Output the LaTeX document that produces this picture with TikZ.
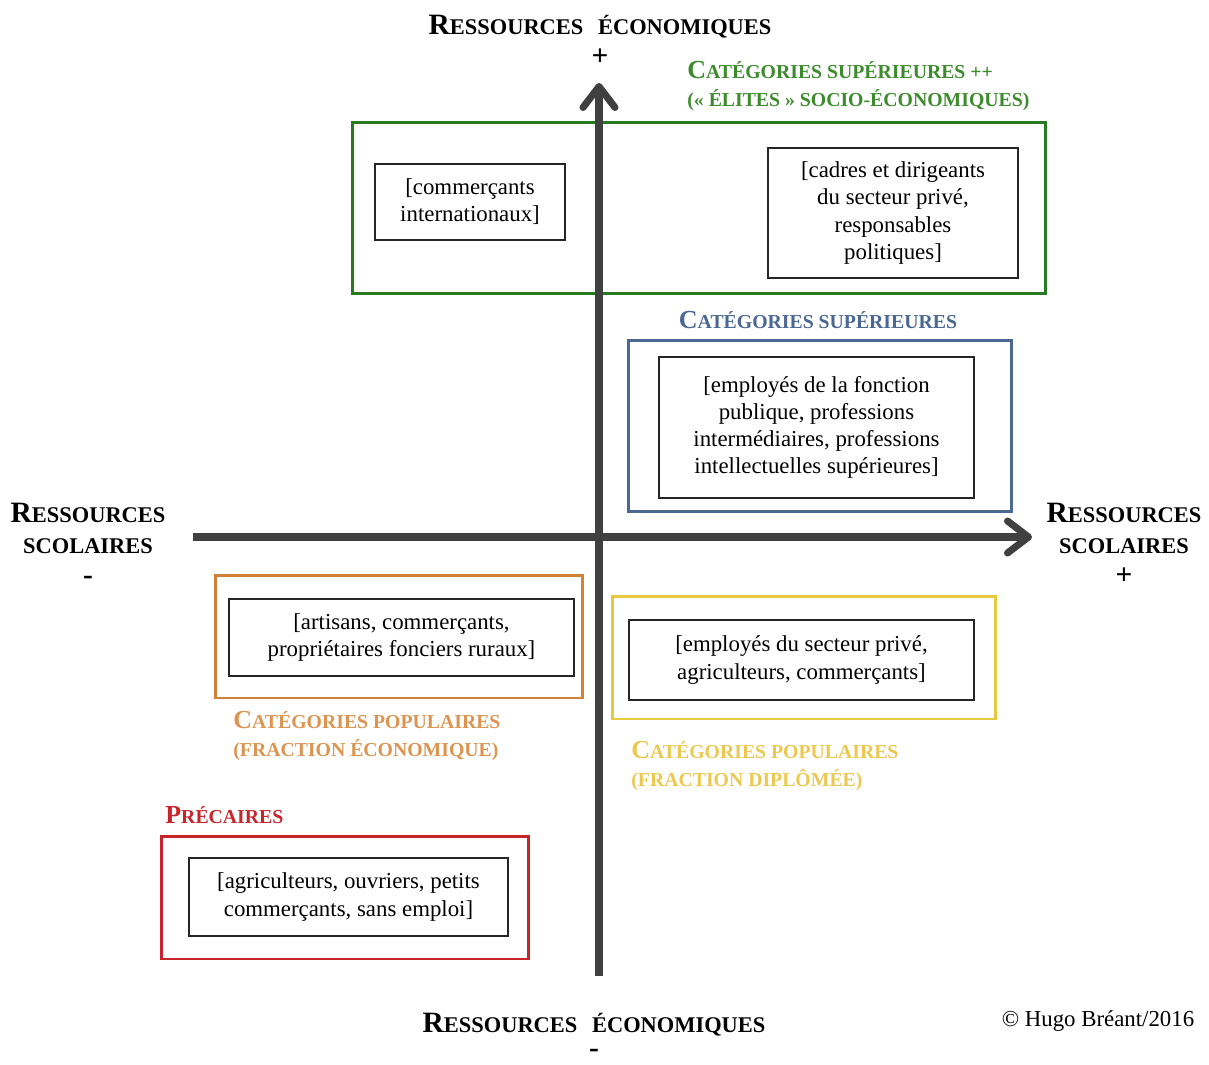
\documentclass[tikz,border=0pt]{standalone}
\usepackage{fontspec}
\setmainfont{Liberation Serif}
\usetikzlibrary{arrows.meta}
\definecolor{vert}{RGB}{38,122,34}
\definecolor{vertclair}{RGB}{60,140,45}
\definecolor{bleu}{RGB}{74,104,146}
\definecolor{orange}{RGB}{210,130,55}
\definecolor{orangeclair}{RGB}{220,148,80}
\definecolor{jaune}{RGB}{232,200,60}
\definecolor{jauneclair}{RGB}{236,200,80}
\definecolor{rouge}{RGB}{200,36,44}
\definecolor{axegris}{RGB}{64,64,64}
\newcommand\sck[1]{\scalebox{0.76}{#1}}
\tikzset{
    every node/.style={inner sep=0pt, font=\fontsize{13}{15.4}\selectfont}
}
\tikzset{catbox/.style={rectangle, draw, line width=1.7pt}}
\tikzset{jobbox/.style={rectangle, draw=black!85, line width=0.7pt, align=center}}
\tikzset{cattitle/.style={font=\fontsize{14.8}{15.6}\selectfont\bfseries, align=left, anchor=west}}
\tikzset{axtitle/.style={font=\fontsize{16.8}{17.5}\selectfont\bfseries, align=center}}

\begin{document}
\begin{tikzpicture}[x=0.02cm, y=-0.02cm]
  \useasboundingbox (0,0) rectangle (1209,1064);

  % grandes boites colorees
  \node (elite) [catbox, draw=vert, minimum width=13.88cm, minimum height=3.44cm] at (699,208) {};
  \node (sup) [catbox, draw=bleu, minimum width=7.68cm, minimum height=3.44cm] at (820,426) {};
  \node (popeco) [catbox, draw=orange, minimum width=7.36cm, minimum height=2.46cm] at (399,636.5) {};
  \node (popdip) [catbox, draw=jaune, minimum width=7.68cm, minimum height=2.46cm] at (804,657.5) {};
  \node (prec) [catbox, draw=rouge, minimum width=7.36cm, minimum height=2.46cm] at (345,897.5) {};

  % professions
  \node (comm) [jobbox, minimum width=3.8cm, minimum height=1.52cm] at (470,202) {[commerçants\\internationaux]};
  \node (cadres) [jobbox, minimum width=5cm, minimum height=2.6cm] at (893,213) {[cadres et dirigeants\\du secteur privé,\\responsables\\politiques]};
  \node (fonct) [jobbox, minimum width=6.3cm, minimum height=2.82cm] at (816.5,427.5) {[employés de la fonction\\publique, professions\\intermédiaires, professions\\intellectuelles supérieures]};
  \node (artis) [jobbox, minimum width=6.9cm, minimum height=1.54cm] at (401.5,637.5) {[artisans, commerçants,\\propriétaires fonciers ruraux]};
  \node (prive) [jobbox, minimum width=6.9cm, minimum height=1.6cm] at (801.5,660) {[employés du secteur privé,\\agriculteurs, commerçants]};
  \node (agri) [jobbox, minimum width=6.38cm, minimum height=1.56cm] at (348.5,897) {[agriculteurs, ouvriers, petits\\commerçants, sans emploi]};

  % titres des categories
  \node (telite) [cattitle, text=vertclair] at (687,86) {C\sck{ATÉGORIES SUPÉRIEURES ++}\\\sck{(« ÉLITES » SOCIO-ÉCONOMIQUES)}};
  \node (tsup) [cattitle, text=bleu, anchor=center] at (818,320) {C\sck{ATÉGORIES SUPÉRIEURES}};
  \node (tpopeco) [cattitle, text=orangeclair] at (233,736) {C\sck{ATÉGORIES POPULAIRES}\\\sck{(FRACTION ÉCONOMIQUE)}};
  \node (tpopdip) [cattitle, text=jauneclair] at (631,766) {C\sck{ATÉGORIES POPULAIRES}\\\sck{(FRACTION DIPLÔMÉE)}};
  \node (tprec) [cattitle, text=rouge] at (165,815) {P\sck{RÉCAIRES}};

  % axes
  \coordinate (ybas) at (599,976);
  \coordinate (yhaut) at (599,83);
  \coordinate (xgauche) at (193,537);
  \coordinate (xdroite) at (1032,537);
  \draw [line width=4pt, axegris, -{Straight Barb[length=0.42cm, width=0.64cm, round]}] (ybas) -- (yhaut);
  \draw [line width=4pt, axegris, -{Straight Barb[length=0.42cm, width=0.64cm, round]}] (xgauche) -- (xdroite);

  % titres des axes
  \node (eco+) [axtitle] at (600,40) {R\sck{ESSOURCES} \ \sck{ÉCONOMIQUES}\\+};
  \node (eco) [axtitle] at (594,1025) {R\sck{ESSOURCES} \ \sck{ÉCONOMIQUES}};
  \node (eco-) [axtitle] at (594,1053) {-};
  \node (sco-) [axtitle] at (88,544) {R\sck{ESSOURCES}\\\sck{SCOLAIRES}\\-};
  \node (sco+) [axtitle] at (1124,544) {R\sck{ESSOURCES}\\\sck{SCOLAIRES}\\+};
  \node (copy) at (1098,1021) {© Hugo Bréant/2016};
\end{tikzpicture}
\end{document}
